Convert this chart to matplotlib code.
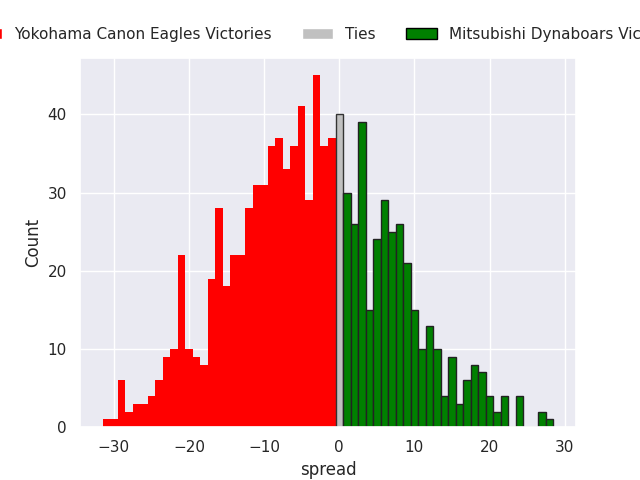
import matplotlib
matplotlib.use("Agg")
import matplotlib.pyplot as plt
import seaborn as sns
from matplotlib.patches import Patch

sns.set_theme(style="darkgrid")

eagles_spread = list(range(-31, 0))
eagles_counts = [1, 1, 6, 2, 3, 3, 4, 6, 9, 10, 22, 10, 9, 8, 19, 28, 18, 22, 22, 28,
                 31, 31, 36, 37, 33, 36, 41, 29, 45, 36, 37]
ties_spread = [0]
ties_counts = [40]
dyna_spread = list(range(1, 29))
dyna_counts = [30, 26, 39, 15, 24, 29, 25, 26, 21, 15, 10, 13, 10, 4, 9, 3, 6, 8, 7, 4,
               2, 4, 0, 4, 0, 0, 2, 1]

labels = ["Yokohama Canon Eagles Victories", "Ties", "Mitsubishi Dynaboars Victories"]

fig, ax = plt.subplots(figsize=(6.4, 4.8), dpi=100)
ax.bar(eagles_spread, eagles_counts, width=1.0, color="red", linewidth=0)
ax.bar(ties_spread, ties_counts, width=1.0, color="silver", edgecolor="#333333", linewidth=1)
ax.bar(dyna_spread, dyna_counts, width=1.0, color="green", edgecolor="#222222", linewidth=1)

ax.set_xlabel("spread")
ax.set_ylabel("Count")
ax.set_xticks([-30, -20, -10, 0, 10, 20, 30])
ax.set_xlim(-34.5, 31.5)
ax.set_ylim(0, 47.25)

handles = [Patch(facecolor="red"), Patch(facecolor="silver"),
           Patch(facecolor="green", edgecolor="black")]
ax.legend(handles, labels, loc="center", bbox_to_anchor=(0.5, 1.062), ncol=3,
          frameon=False, fontsize=11)

fig.savefig("out.png", dpi=100)
